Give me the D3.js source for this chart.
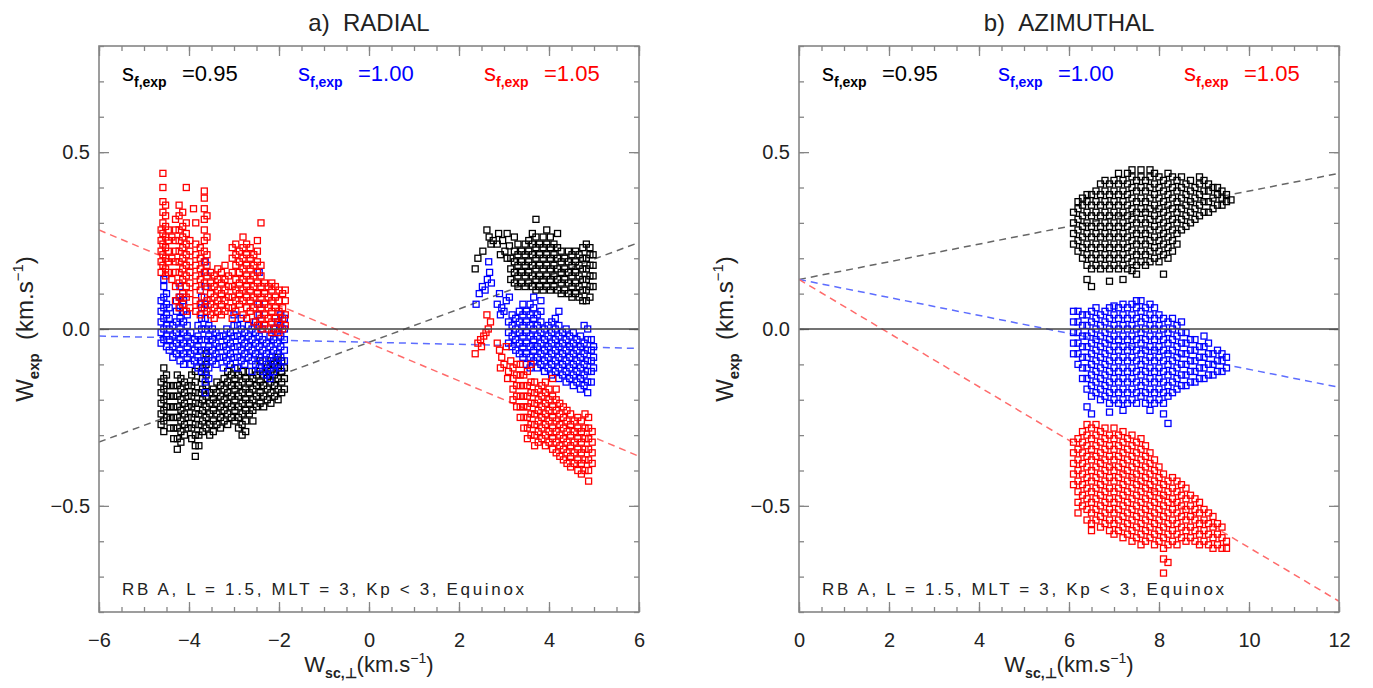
<!DOCTYPE html>
<html>
<head>
<meta charset="utf-8">
<script src="https://cdn.jsdelivr.net/npm/d3@7"></script>
<style>
  body { margin: 0; background: #fff; }
  svg { display: block; }
  text { font-family: "Liberation Sans", Arial, sans-serif; fill: #222; }
</style>
</head>
<body>
<div id="chart"></div>
<script>
// values (km/s), kept as small arrays
var radXTicks = [-6, -4, -2, 0, 2, 4, 6];
var azXTicks = [0, 2, 4, 6, 8, 10, 12];
var yTicks = [-0.5, 0, 0.5];
var sfLabels = ["0.95", "1.00", "1.05"];
var seriesColors = ["#000000", "#0000ff", "#ff0000"];
var fitColors = ["#666666", "#5d6dff", "#ff6b6b"];

// dashed linear fits  y = intercept + slope * x
var radFitIntercept = [-0.0375, -0.0375, -0.04];
var radFitSlope = [0.047, -0.0029, -0.0533];
var azFitIntercept = [0.14, 0.14, 0.14];
var azFitSlope = [0.025, -0.0254, -0.0758];

// scatter clouds, stored as columns: [x, [y, y, ...]]
var radBlack = [
  [-4.62,[-.27,-.24,-.21,-.18,-.15]],[-4.56,[-.29,-.26,-.23,-.2,-.17,-.14,-.11]],
  [-4.5,[-.25,-.22,-.19,-.16,-.13]],[-4.42,[-.28,-.25,-.22,-.19,-.16]],
  [-4.34,[-.31,-.28,-.25,-.22,-.19,-.16]],[-4.26,[-.34,-.31,-.28,-.25,-.22,-.19,-.16,-.13]],
  [-4.18,[-.32,-.29,-.26,-.23,-.2,-.17,-.14]],[-4.1,[-.3,-.27,-.24,-.21,-.18,-.15]],
  [-4.02,[-.28,-.25,-.22,-.19,-.16]],[-3.94,[-.31,-.28,-.25,-.22,-.19,-.16,-.13]],
  [-3.86,[-.36,-.33,-.3,-.27,-.24,-.21,-.18,-.15,-.12]],[-3.78,[-.33,-.3,-.27,-.24,-.21,-.18]],
  [-3.7,[-.29,-.26,-.23,-.2,-.17,-.14,-.11]],[-3.62,[-.28,-.25,-.22,-.19,-.16,-.13,-.1,-.07]],
  [-3.54,[-.3,-.27,-.24,-.21,-.18]],[-3.46,[-.29,-.26,-.23,-.2,-.17]],
  [-3.38,[-.27,-.24,-.21,-.18,-.15]],[-3.3,[-.28,-.25,-.22,-.19,-.16]],
  [-3.22,[-.26,-.23,-.2,-.17,-.14]],[-3.14,[-.27,-.24,-.21,-.18,-.15,-.12]],
  [-3.06,[-.25,-.22,-.19,-.16,-.13]],[-2.98,[-.26,-.23,-.2,-.17,-.14,-.11]],
  [-2.9,[-.28,-.25,-.22,-.19,-.16,-.13]],[-2.82,[-.3,-.27,-.24,-.21,-.18,-.15,-.12]],
  [-2.74,[-.29,-.26,-.23,-.2,-.17,-.14]],[-2.66,[-.24,-.21,-.18,-.15,-.12]],
  [-2.58,[-.26,-.23,-.2,-.17,-.14]],[-2.5,[-.22,-.19,-.16,-.13]],
  [-2.42,[-.21,-.18,-.15,-.12,-.09]],[-2.34,[-.22,-.19,-.16,-.13]],
  [-2.26,[-.2,-.17,-.14,-.11]],[-2.18,[-.21,-.18,-.15,-.12,-.09]],
  [-2.1,[-.19,-.16,-.13,-.1]],[-2.02,[-.2,-.17,-.14,-.11,-.08]],
  [-1.94,[-.18,-.15,-.12,-.09]],[-1.88,[-.17,-.14,-.11]],
  [2.36,[.17]],[2.42,[.2]],[2.53,[.22]],[2.62,[.28]],[2.67,[.26]],[2.71,[.24]],[2.76,[.25]],
  [2.85,[.24]],[2.88,[.27]],[2.92,[.21]],[2.97,[.25]],[3.02,[.22]],[3.07,[.2,.27]],[3.12,[.235]],
  [3.15,[.14,.17,.2]],[3.23,[.13,.16,.19,.22,.26]],[3.31,[.12,.15,.18,.21,.24]],
  [3.39,[.13,.16,.19,.22]],[3.47,[.12,.15,.18,.21,.24]],[3.55,[.13,.16,.19,.22,.25]],
  [3.63,[.12,.15,.18,.21,.24,.27]],[3.71,[.11,.14,.17,.2,.23,.26,.31]],
  [3.79,[.12,.15,.18,.21,.24]],[3.87,[.11,.14,.17,.2,.23,.26]],
  [3.95,[.12,.15,.18,.21,.24,.28]],[4.03,[.11,.14,.17,.2,.23,.26]],
  [4.11,[.12,.15,.18,.21,.24]],[4.19,[.11,.14,.17,.2,.23,.27]],
  [4.27,[.1,.13,.16,.19,.22]],[4.35,[.11,.14,.17,.2]],[4.43,[.1,.13,.16,.19,.22]],
  [4.51,[.09,.12,.15,.18,.21]],[4.59,[.1,.13,.16,.19,.22]],[4.67,[.09,.12,.15,.18,.21]],
  [4.75,[.08,.11,.14,.17,.2,.23]],[4.83,[.08,.11,.14,.17,.2,.24]],
  [4.91,[.09,.12,.15,.18,.21,.23]],[4.98,[.12,.15,.18,.21]]
];
var radBlue = [
  [-4.62,[-.04,-.01,.02,.05,.08]],[-4.56,[-.03,0,.03,.06,.09,.12,.14]],
  [-4.5,[-.05,-.02,.01,.04,.07,.1]],[-4.44,[-.06,-.03,0,.03,.06]],
  [-4.36,[-.08,-.05,-.02,.01]],[-4.28,[-.07,-.04,-.01,.02,.05,.08]],
  [-4.2,[-.09,-.06,-.03,0,.03,.06,.09,.12]],[-4.12,[-.1,-.07,-.04,-.01,.02,.05,.08]],
  [-4.04,[-.08,-.05,-.02,.01,.04]],[-3.96,[-.1,-.07,-.04,-.01]],
  [-3.88,[-.09,-.06,-.03]],[-3.8,[-.11,-.08,-.05,-.02,.01]],
  [-3.72,[-.12,-.09,-.06,-.03,0,.03,.06,.09]],
  [-3.64,[-.18,-.15,-.12,-.09,-.06,-.03,0,.03,.07,.12,.16,.19]],
  [-3.56,[-.14,-.11,-.08,-.05,-.02,.01]],[-3.48,[-.09,-.06,-.03,0]],
  [-3.4,[-.1,-.07,-.04,-.01]],[-3.32,[-.08,-.05,-.02]],
  [-3.24,[-.11,-.08,-.05,-.02]],[-3.16,[-.09,-.06,-.03,0]],
  [-3.08,[-.1,-.07,-.04,-.01]],[-3.0,[-.08,-.05,-.02,.01,.04]],
  [-2.92,[-.11,-.08,-.05,-.02,.01]],[-2.84,[-.09,-.06,-.03,0,.03]],
  [-2.76,[-.1,-.07,-.04,-.01]],[-2.68,[-.08,-.05,-.02,.01]],
  [-2.6,[-.12,-.09,-.06,-.03,0]],[-2.52,[-.1,-.07,-.04,-.01,.02]],
  [-2.44,[-.11,-.08,-.05,-.02,.01,.04,.07,.16]],[-2.36,[-.12,-.09,-.06,-.03,0]],
  [-2.28,[-.13,-.1,-.07,-.04]],[-2.2,[-.14,-.11,-.08,-.05,-.02]],
  [-2.12,[-.12,-.09,-.06,-.03,0]],[-2.04,[-.1,-.07,-.04,-.01,.02]],
  [-1.96,[-.11,-.08,-.05,-.02,.01,.04]],[-1.88,[-.09,-.06,-.03,0,.03]],
  [2.38,[.07]],[2.45,[.1]],[2.52,[.12]],[2.58,[.11]],[2.63,[.14]],[2.66,[.19]],[2.68,[.16]],[2.72,[.13]],
  [2.85,[.07]],[2.9,[.1]],[2.92,[.04]],[2.95,[.06]],[3.0,[.05]],[3.05,[.08]],[3.12,[.09]],
  [3.1,[-.04,-.01,.02]],[3.18,[-.05,-.02,.01,.04]],[3.26,[-.06,-.03,0,.03]],
  [3.34,[-.07,-.04,-.01,.02,.05]],[3.42,[-.08,-.05,-.02,.01,.04,.07]],
  [3.5,[-.1,-.07,-.04,-.01,.02,.05]],[3.58,[-.11,-.08,-.05,-.02,.01,.04,.07]],
  [3.66,[-.09,-.06,-.03,0,.03,.06,.09]],[3.74,[-.11,-.08,-.05,-.02,.01,.04]],
  [3.82,[-.1,-.07,-.04,-.01,.02,.05,.08]],[3.9,[-.12,-.09,-.06,-.03,0]],
  [3.98,[-.11,-.08,-.05,-.02,.01]],[4.06,[-.13,-.1,-.07,-.04,-.01,.02]],
  [4.14,[-.12,-.09,-.06,-.03,0,.03]],[4.22,[-.14,-.11,-.08,-.05,-.02,.01,.05]],
  [4.3,[-.13,-.1,-.07,-.04,-.01]],[4.38,[-.15,-.12,-.09,-.06,-.03,0]],
  [4.46,[-.14,-.11,-.08,-.05,-.02]],[4.54,[-.16,-.13,-.1,-.07,-.04,-.01]],
  [4.62,[-.15,-.12,-.09,-.06,-.03]],[4.7,[-.17,-.14,-.11,-.08,-.05,-.02]],
  [4.78,[-.16,-.13,-.1,-.07,-.04,.01]],[4.86,[-.18,-.15,-.12,-.09,-.06,-.03,0]],
  [4.94,[-.15,-.12,-.09,-.06,-.03]],[4.99,[-.11,-.08,-.05]]
];
var radRed = [
  [-4.62,[.16,.19,.22,.25,.28]],[-4.58,[.18,.21,.24,.27,.3,.33,.36,.4,.44]],
  [-4.52,[.15,.17,.2,.23,.26,.29,.32,.35]],[-4.46,[.16,.19,.22,.25,.28]],
  [-4.38,[.14,.2,.26]],[-4.3,[.08,.12,.16,.19,.22,.25,.28,.31]],
  [-4.22,[.06,.09,.13,.16,.19,.22,.25,.28,.32,.35]],[-4.14,[.07,.1,.14,.17,.2,.23,.26,.29,.33]],
  [-4.06,[.05,.09,.12,.15,.18,.21,.24,.27,.3,.4]],[-3.98,[.06,.1,.13,.16,.19,.22,.25]],
  [-3.9,[.34]],[-3.85,[.05,.08,.12,.15,.18,.21,.24,.3]],[-3.75,[.04,.07,.11,.14,.17,.2,.23]],
  [-3.66,[.06,.09,.13,.16,.19,.22,.25,.28,.31,.34,.37,.39]],
  [-3.6,[.05,.08,.12,.15,.18,.21,.26,.32]],[-3.52,[.04,.07,.1,.13,.16]],
  [-3.44,[.03,.06,.09,.12,.15]],[-3.36,[.05,.08,.11,.14,.17]],
  [-3.28,[.04,.07,.1,.13,.16]],[-3.2,[.05,.08,.11,.14,.18]],
  [-3.12,[.06,.09,.12,.15]],[-3.04,[.03,.06,.09,.12,.16,.2,.23]],
  [-2.96,[.05,.08,.11,.14,.18,.21,.24]],[-2.88,[.07,.1,.13,.16,.19,.22]],
  [-2.8,[.04,.08,.11,.14,.17,.2,.23,.26]],[-2.72,[.03,.06,.09,.12,.15,.18,.21,.24]],
  [-2.64,[.05,.08,.11,.14,.17,.2,.23]],[-2.56,[.02,.06,.09,.12,.15,.18,.21]],
  [-2.48,[.01,.04,.07,.1,.13,.16,.19,.22,.25]],[-2.4,[0,.03,.06,.09,.12,.15,.18,.3]],
  [-2.32,[.01,.04,.07,.1,.13]],[-2.24,[0,.03,.06,.09,.12]],
  [-2.16,[-.01,.02,.05,.08,.11,.13]],[-2.08,[0,.03,.06,.09,.12]],
  [-2.0,[-.01,.02,.05,.08,.11]],[-1.92,[0,.03,.06,.1]],[-1.86,[.01,.04,.08,.11]],
  [2.36,[-.07]],[2.42,[-.04]],[2.48,[-.03]],[2.5,[-.05]],[2.55,[-.02]],[2.6,[-.01]],[2.62,[.04]],
  [2.65,[0]],[2.7,[.02]],[2.85,[-.04]],[2.9,[-.06]],[2.92,[-.11]],[2.95,[-.08]],[3.0,[-.1]],
  [3.05,[-.05]],[3.08,[-.14]],[3.1,[-.12]],[3.15,[-.09]],
  [3.2,[-.2,-.17,-.14,-.11]],[3.28,[-.22,-.19,-.16,-.13,-.1]],
  [3.36,[-.25,-.22,-.19,-.16,-.13,-.1]],[3.44,[-.28,-.25,-.22,-.19,-.16,-.13]],
  [3.52,[-.31,-.28,-.25,-.22,-.19,-.16,-.12]],[3.6,[-.3,-.27,-.24,-.21,-.18,-.15,-.1]],
  [3.68,[-.33,-.3,-.27,-.24,-.21,-.18,-.15]],[3.76,[-.32,-.29,-.26,-.23,-.2,-.17]],
  [3.84,[-.31,-.28,-.25,-.22,-.19,-.16]],[3.92,[-.33,-.3,-.27,-.24,-.21,-.18,-.15]],
  [4.0,[-.32,-.29,-.26,-.23,-.2,-.17]],[4.08,[-.34,-.31,-.28,-.25,-.22,-.19,-.14]],
  [4.16,[-.35,-.32,-.29,-.26,-.23,-.2,-.17]],[4.24,[-.36,-.33,-.3,-.27,-.24,-.21]],
  [4.32,[-.37,-.34,-.31,-.28,-.25,-.22]],[4.4,[-.38,-.35,-.32,-.29,-.26,-.23]],
  [4.48,[-.39,-.36,-.33,-.3,-.27,-.24]],[4.56,[-.38,-.35,-.32,-.29,-.26]],
  [4.64,[-.4,-.37,-.34,-.31,-.28,-.25]],[4.72,[-.41,-.38,-.35,-.32,-.29,-.26]],
  [4.8,[-.4,-.37,-.34,-.31,-.28,-.24]],[4.88,[-.43,-.4,-.37,-.34,-.31,-.28,-.25]],
  [4.96,[-.38,-.35,-.32,-.29]]
];

var azBlack = [
  [6.1,[.24,.27,.3,.33]],[6.2,[.22,.25,.28,.31,.34,.36]],[6.3,[.2,.23,.26,.29,.32,.35,.37]],
  [6.4,[.14,.18,.21,.24,.27,.3,.33,.36,.38]],[6.5,[.12,.17,.2,.23,.26,.29,.32,.35,.38]],
  [6.6,[.18,.21,.24,.27,.3,.33,.36,.39]],[6.7,[.17,.2,.23,.26,.29,.32,.35,.38,.41]],
  [6.8,[.18,.21,.24,.27,.3,.33,.36,.39,.42]],[6.9,[.135,.17,.2,.23,.26,.29,.32,.35,.38,.41]],
  [7.0,[.18,.21,.24,.27,.3,.33,.36,.39,.42]],[7.1,[.17,.2,.23,.26,.29,.32,.35,.38,.41,.44]],
  [7.2,[.14,.18,.21,.24,.27,.3,.33,.36,.39,.42]],[7.3,[.17,.2,.23,.26,.29,.32,.35,.38,.41,.44]],
  [7.4,[.165,.19,.22,.25,.28,.31,.34,.37,.4,.43,.45]],[7.5,[.155,.18,.21,.24,.27,.3,.33,.36,.39,.42]],
  [7.6,[.19,.22,.25,.28,.31,.34,.37,.4,.43,.45]],[7.7,[.18,.21,.24,.27,.3,.33,.36,.39,.42]],
  [7.8,[.19,.22,.25,.28,.31,.34,.37,.4,.43,.45]],[7.9,[.2,.23,.26,.29,.32,.35,.38,.41,.44]],
  [8.0,[.19,.22,.25,.28,.31,.34,.37,.4,.43]],[8.1,[.155,.21,.24,.27,.3,.33,.36,.39,.42]],
  [8.2,[.2,.23,.26,.29,.32,.35,.38,.41,.44]],[8.3,[.22,.25,.28,.31,.34,.37,.4,.43]],
  [8.4,[.24,.27,.3,.33,.36,.39,.42]],[8.5,[.28,.31,.34,.37,.4,.43]],[8.6,[.29,.32,.35,.38,.41]],
  [8.7,[.3,.33,.36,.39,.42]],[8.8,[.31,.34,.37,.4]],[8.9,[.32,.35,.38,.41,.43]],
  [9.0,[.33,.36,.39,.42]],[9.1,[.33,.36,.39,.41]],[9.2,[.34,.37,.4]],[9.3,[.35,.38,.4]],
  [9.4,[.35,.37,.39]],[9.5,[.36,.38]],[9.6,[.365]]
];
var azBlue = [
  [6.1,[-.07,-.04,-.01,.02,.05]],[6.2,[-.1,-.07,-.04,-.01,.02,.05]],
  [6.3,[-.14,-.11,-.08,-.05,-.02,.01,.04]],[6.4,[-.22,-.17,-.14,-.11,-.08,-.05,-.02,.01,.04]],
  [6.5,[-.24,-.19,-.16,-.13,-.1,-.07,-.04,-.01,.02,.05]],[6.6,[-.18,-.15,-.12,-.09,-.06,-.03,0,.03,.06]],
  [6.7,[-.2,-.17,-.14,-.11,-.08,-.05,-.02,.01,.04]],[6.8,[-.19,-.16,-.13,-.1,-.07,-.04,-.01,.02,.05]],
  [6.9,[-.235,-.21,-.18,-.15,-.12,-.09,-.06,-.03,0,.03,.06]],[7.0,[-.2,-.17,-.14,-.11,-.08,-.05,-.02,.01,.04,.065]],
  [7.1,[-.21,-.18,-.15,-.12,-.09,-.06,-.03,0,.03,.06]],[7.2,[-.23,-.2,-.17,-.14,-.11,-.08,-.05,-.02,.01,.04,.07]],
  [7.3,[-.21,-.18,-.15,-.12,-.09,-.06,-.03,0,.03,.06]],[7.4,[-.2,-.17,-.14,-.11,-.08,-.05,-.02,.01,.04,.07]],
  [7.5,[-.21,-.18,-.15,-.12,-.09,-.06,-.03,0,.03,.06,.08]],[7.6,[-.19,-.16,-.13,-.1,-.07,-.04,-.01,.02,.05,.08]],
  [7.7,[-.21,-.18,-.15,-.12,-.09,-.06,-.03,0,.03,.06]],[7.8,[-.23,-.2,-.17,-.14,-.11,-.08,-.05,-.02,.01,.04,.07]],
  [7.9,[-.21,-.18,-.15,-.12,-.09,-.06,-.03,0,.03,.06]],[8.0,[-.2,-.17,-.14,-.11,-.08,-.05,-.02,.01,.04]],
  [8.1,[-.24,-.21,-.18,-.15,-.12,-.09,-.06,-.03,0,.03]],[8.2,[-.267,-.19,-.16,-.13,-.1,-.07,-.04,-.01,.02]],
  [8.3,[-.18,-.15,-.12,-.09,-.06,-.03,0,.03]],[8.4,[-.17,-.14,-.11,-.08,-.05,-.02,.01]],
  [8.5,[-.16,-.13,-.1,-.07,-.04,-.01,.02]],[8.6,[-.16,-.13,-.1,-.07,-.04,-.01]],
  [8.7,[-.15,-.12,-.09,-.06,-.03]],[8.8,[-.15,-.12,-.09,-.06,-.03]],[8.9,[-.14,-.11,-.08,-.05]],
  [9.0,[-.14,-.11,-.08,-.05,-.02]],[9.1,[-.13,-.1,-.07,-.04]],[9.2,[-.13,-.1,-.07]],
  [9.3,[-.12,-.09,-.06]],[9.4,[-.12,-.09,-.07]],[9.5,[-.11,-.08]]
];
var azRed = [
  [6.1,[-.44,-.41,-.38,-.35,-.32]],[6.2,[-.52,-.49,-.46,-.43,-.4,-.37,-.34,-.31]],
  [6.3,[-.5,-.47,-.44,-.41,-.38,-.35,-.32,-.29]],[6.4,[-.54,-.51,-.48,-.45,-.42,-.39,-.36,-.33,-.3,-.27]],
  [6.5,[-.57,-.55,-.52,-.49,-.46,-.43,-.4,-.37,-.34,-.31,-.28]],[6.6,[-.54,-.51,-.48,-.45,-.42,-.39,-.36,-.33,-.3,-.27]],
  [6.7,[-.56,-.53,-.5,-.47,-.44,-.41,-.38,-.35,-.32,-.29]],[6.8,[-.55,-.52,-.49,-.46,-.43,-.4,-.37,-.34,-.31,-.28]],
  [6.9,[-.57,-.54,-.51,-.48,-.45,-.42,-.39,-.36,-.33,-.3]],[7.0,[-.58,-.55,-.52,-.49,-.46,-.43,-.4,-.37,-.34,-.31,-.28]],
  [7.1,[-.57,-.54,-.51,-.48,-.45,-.42,-.39,-.36,-.33,-.3]],[7.2,[-.59,-.56,-.53,-.5,-.47,-.44,-.41,-.38,-.35,-.32,-.29]],
  [7.3,[-.58,-.55,-.52,-.49,-.46,-.43,-.4,-.37,-.34,-.31]],[7.4,[-.6,-.57,-.54,-.51,-.48,-.45,-.42,-.39,-.36,-.33,-.3]],
  [7.5,[-.59,-.56,-.53,-.5,-.47,-.44,-.41,-.38,-.35,-.32]],[7.6,[-.61,-.58,-.55,-.52,-.49,-.46,-.43,-.4,-.37,-.34,-.31]],
  [7.7,[-.6,-.57,-.54,-.51,-.48,-.45,-.42,-.39,-.36,-.33]],[7.8,[-.59,-.56,-.53,-.5,-.47,-.44,-.41,-.38,-.35]],
  [7.9,[-.61,-.58,-.55,-.52,-.49,-.46,-.43,-.4,-.37]],[8.0,[-.6,-.57,-.54,-.51,-.48,-.45,-.42,-.39]],
  [8.1,[-.69,-.65,-.62,-.59,-.56,-.53,-.5,-.47,-.44,-.41]],[8.2,[-.66,-.61,-.58,-.55,-.52,-.49,-.46,-.43]],
  [8.3,[-.6,-.57,-.54,-.51,-.48,-.45,-.42]],[8.4,[-.61,-.58,-.55,-.52,-.49,-.46,-.43]],
  [8.5,[-.59,-.56,-.53,-.5,-.47,-.44]],[8.6,[-.6,-.57,-.54,-.51,-.48,-.45]],
  [8.7,[-.59,-.56,-.53,-.5,-.47]],[8.8,[-.6,-.57,-.54,-.51,-.48]],[8.9,[-.61,-.58,-.55,-.52,-.49]],
  [9.0,[-.6,-.57,-.54,-.51]],[9.1,[-.61,-.58,-.55,-.52]],[9.2,[-.62,-.59,-.56,-.53]],
  [9.3,[-.61,-.58,-.55]],[9.4,[-.62,-.59,-.56]],[9.5,[-.62,-.6]]
];

// layout
var W = 1373, H = 688;
var pw = 540, ph = 566, plotTop = 46;

var panels = [
  { x0: 99, title: "a)\u00a0\u00a0RADIAL", xDomain: [-6, 6], xTicks: radXTicks,
    sets: [radBlack, radBlue, radRed], icpt: radFitIntercept, slope: radFitSlope },
  { x0: 799, title: "b)\u00a0\u00a0AZIMUTHAL", xDomain: [0, 12], xTicks: azXTicks,
    sets: [azBlack, azBlue, azRed], icpt: azFitIntercept, slope: azFitSlope }
];

var svg = d3.select("#chart").append("svg")
  .attr("width", W)
  .attr("height", H);

function flatten(cols) {
  var out = [];
  cols.forEach(function(c) {
    c[1].forEach(function(v) { out.push({x: c[0], y: v}); });
  });
  return out;
}

function styleAxis(sel) {
  sel.select(".domain").remove();
  sel.selectAll(".tick line").attr("stroke", "#858585").attr("stroke-width", 1.3);
  sel.selectAll(".tick text").attr("fill", "#222").style("font-size", "20px")
    .style("font-family", "'Liberation Sans', Arial, sans-serif");
}

panels.forEach(function(p, pi) {
  var g = svg.append("g")
    .attr("transform", "translate(" + p.x0 + "," + plotTop + ")");

  var x = d3.scaleLinear().domain(p.xDomain).range([0, pw]);
  var y = d3.scaleLinear().domain([-0.8, 0.8]).range([ph, 0]);

  var xMinor = d3.range(p.xDomain[0], p.xDomain[1] + 0.01, 0.5);
  var yMinor = d3.range(-8, 9).map(function(d) { return d / 10; });

  g.append("clipPath").attr("id", "clip" + pi)
    .append("rect").attr("width", pw).attr("height", ph);

  // axes, ticks pointing inward on all four sides
  g.append("g").attr("transform", "translate(0," + ph + ")")
    .call(d3.axisBottom(x).tickValues(p.xTicks).tickSizeInner(-10).tickSizeOuter(0)
      .tickPadding(21).tickFormat(d3.format("d"))).call(styleAxis);
  g.append("g").attr("transform", "translate(0," + ph + ")")
    .call(d3.axisBottom(x).tickValues(xMinor).tickSize(-5).tickFormat("")).call(styleAxis);
  g.append("g")
    .call(d3.axisTop(x).tickValues(p.xTicks).tickSize(-10).tickFormat("")).call(styleAxis);
  g.append("g")
    .call(d3.axisTop(x).tickValues(xMinor).tickSize(-5).tickFormat("")).call(styleAxis);
  g.append("g")
    .call(d3.axisLeft(y).tickValues(yTicks).tickSizeInner(-10).tickSizeOuter(0)
      .tickPadding(9).tickFormat(d3.format(".1f"))).call(styleAxis);
  g.append("g")
    .call(d3.axisLeft(y).tickValues(yMinor).tickSize(-5).tickFormat("")).call(styleAxis);
  g.append("g").attr("transform", "translate(" + pw + ",0)")
    .call(d3.axisRight(y).tickValues(yTicks).tickSize(-10).tickFormat("")).call(styleAxis);
  g.append("g").attr("transform", "translate(" + pw + ",0)")
    .call(d3.axisRight(y).tickValues(yMinor).tickSize(-5).tickFormat("")).call(styleAxis);

  var plot = g.append("g").attr("clip-path", "url(#clip" + pi + ")");

  // dashed fits
  var line = d3.line()
    .x(function(d) { return x(d.x); })
    .y(function(d) { return y(d.y); });
  p.icpt.forEach(function(b, i) {
    var pts = p.xDomain.map(function(xv) { return {x: xv, y: b + p.slope[i] * xv}; });
    plot.append("path")
      .datum(pts)
      .attr("d", line)
      .attr("fill", "none")
      .attr("stroke", fitColors[i])
      .attr("stroke-width", 1.5)
      .attr("stroke-dasharray", "7,5");
  });

  // the scatter: open squares
  p.sets.forEach(function(cols, i) {
    plot.append("g").selectAll("rect")
      .data(flatten(cols))
      .enter()
      .append("rect")
        .attr("x", function(d) { return x(d.x) - 3; })
        .attr("y", function(d) { return y(d.y) - 3; })
        .attr("width", 6)
        .attr("height", 6)
        .attr("fill", "none")
        .attr("stroke", seriesColors[i])
        .attr("stroke-width", 1.3);
  });

  // zero line
  plot.append("line")
    .attr("x1", 0).attr("x2", pw)
    .attr("y1", y(0)).attr("y2", y(0))
    .attr("stroke", "#444")
    .attr("stroke-width", 1.4);

  // frame
  g.append("rect")
    .attr("width", pw).attr("height", ph)
    .attr("fill", "none")
    .attr("stroke", "#858585")
    .attr("stroke-width", 1.6);

  // title
  g.append("text")
    .attr("x", pw / 2).attr("y", -15)
    .attr("text-anchor", "middle")
    .style("font-size", "24px")
    .text(p.title);

  // s_f,exp legend
  var sx = [23, 199, 385];
  sfLabels.forEach(function(lab, i) {
    var t = g.append("text")
      .attr("x", sx[i]).attr("y", 35)
      .style("fill", seriesColors[i]);
    t.append("tspan").style("font-size", "24px").style("fill", seriesColors[i]).text("s");
    t.append("tspan").attr("dy", 6).style("font-size", "14px").style("font-weight", "bold")
      .style("fill", seriesColors[i]).text("f,exp");
    g.append("text")
      .attr("x", sx[i] + 60).attr("y", 35)
      .style("font-size", "22px")
      .style("fill", seriesColors[i])
      .text("=" + lab);
  });

  // run info
  g.append("text")
    .attr("x", 23).attr("y", 549)
    .attr("textLength", 402)
    .attr("lengthAdjust", "spacing")
    .style("font-size", "17px")
    .text("RB A, L = 1.5, MLT = 3, Kp < 3, Equinox");

  // axis titles
  var xl = g.append("text")
    .attr("x", pw / 2).attr("y", 626)
    .attr("text-anchor", "middle")
    .style("font-size", "22px");
  xl.append("tspan").text("W");
  xl.append("tspan").attr("dy", 6).style("font-size", "14px").style("font-weight", "bold").text("sc,\u22a5");
  xl.append("tspan").attr("dy", -6).text("(km.s");
  xl.append("tspan").attr("dy", -9).style("font-size", "14px").text("\u22121");
  xl.append("tspan").attr("dy", 9).text(")");

  var yl = g.append("text")
    .attr("transform", "translate(-66," + (ph / 2) + ") rotate(-90)")
    .attr("text-anchor", "middle")
    .style("font-size", "24px");
  yl.append("tspan").text("W");
  yl.append("tspan").attr("dy", 6).style("font-size", "15px").style("font-weight", "bold").text("exp");
  yl.append("tspan").attr("dy", -6).text("\u00a0\u00a0(km.s");
  yl.append("tspan").attr("dy", -10).style("font-size", "15px").text("\u22121");
  yl.append("tspan").attr("dy", 10).text(")");
});
</script>
</body>
</html>
